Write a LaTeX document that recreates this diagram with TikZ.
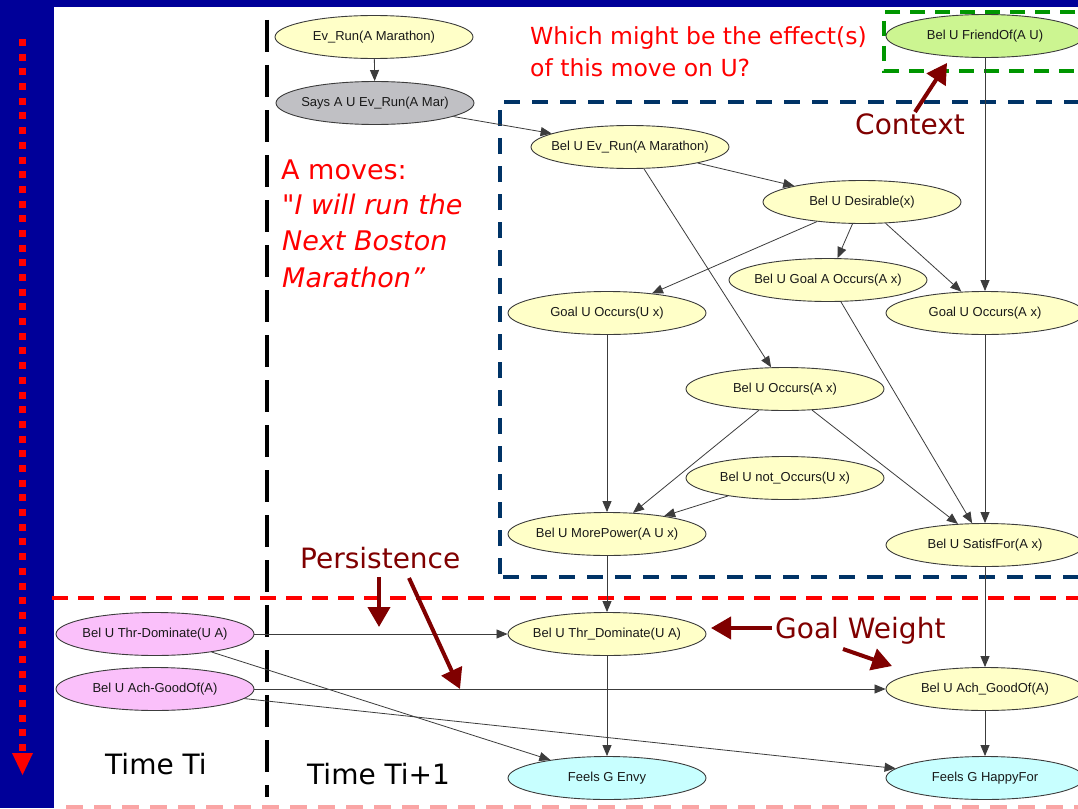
\documentclass[tikz,border=0pt]{standalone}
\usepackage{fontspec}
\setmainfont{Liberation Sans}
\newfontfamily\notefont{DejaVu Sans}
\newfontfamily\handfont{DejaVu Sans}
\usetikzlibrary{shapes.geometric,arrows.meta}

\definecolor{slideblue}{RGB}{0,0,153}
\definecolor{boxnavy}{RGB}{0,51,102}
\definecolor{ctxgreen}{RGB}{0,150,0}
\definecolor{notered}{RGB}{128,0,0}
\definecolor{fadedred}{RGB}{250,165,165}
\definecolor{fillyellow}{RGB}{255,255,200}
\definecolor{fillgray}{RGB}{192,192,196}
\definecolor{fillgreen}{RGB}{204,245,145}
\definecolor{fillpink}{RGB}{250,192,250}
\definecolor{fillcyan}{RGB}{200,255,255}
\definecolor{inkgray}{RGB}{60,60,60}

\tikzset{
  bn/.style={ellipse, draw=inkgray, line width=0.9pt, minimum width=198pt,
    minimum height=43pt, inner xsep=-40pt, inner ysep=0pt, text=black!90,
    font=\fontsize{13}{15}\selectfont},
  link/.style={draw=inkgray, line width=0.8pt, -{Triangle[length=11pt,width=9pt]}},
  hint/.style={draw=notered, line width=4pt, -{Triangle[length=20pt,width=22pt]}},
  handtext/.style={anchor=base west, text=notered, inner sep=0pt,
    font=\handfont\fontsize{28}{32}\selectfont},
  redtext/.style={anchor=base west, text=red, inner sep=0pt},
  timetext/.style={anchor=base west, text=black, inner sep=0pt,
    font=\notefont\fontsize{28}{32}\selectfont},
}

\begin{document}
\begin{tikzpicture}[x=1pt,y=-1pt]
\useasboundingbox (0,0) rectangle (1078,808);
\clip (0,0) rectangle (1078,808);

% slide frame
\fill[white] (0,0) rectangle (1078,808);
\fill[slideblue] (0,0) rectangle (54,808);
\fill[slideblue] (0,0) rectangle (1078,7);

% time axis on the left
\draw[red, line width=7pt, dash pattern=on 7pt off 7.69pt] (22.5,39) -- (22.5,751);
\fill[red] (12,753) -- (33,753) -- (22.5,775) -- cycle;

% separators and groupings
\draw[black, line width=4pt, dash pattern=on 32pt off 13pt] (267,20) -- (267,797);
\draw[red, line width=4pt, dash pattern=on 16pt off 10pt] (52,598) -- (1078,598);
\draw[boxnavy, line width=3.5pt, dash pattern=on 16pt off 12pt, dash phase=-3pt]
  (500,577) -- (500,102) -- (1100,102);
\draw[boxnavy, line width=3.5pt, dash pattern=on 16pt off 12pt, dash phase=-3pt]
  (500,577) -- (1100,577);
\draw[ctxgreen, line width=4pt, dash pattern=on 15pt off 10pt]
  (1100,12) -- (884,12) -- (884,71) -- (1100,71);
\draw[fadedred, line width=6pt, dash pattern=on 17pt off 11pt] (66,808) -- (1078,808);

% belief network
\node[bn, fill=fillyellow] (evrun)  at (374,37)  {Ev\_Run(A Marathon)};
\node[bn, fill=fillgray]   (says)   at (375,103) {Says A U Ev\_Run(A Mar)};
\node[bn, fill=fillyellow] (belrun) at (630,147) {Bel U Ev\_Run(A Marathon)};
\node[bn, fill=fillyellow] (desir)  at (862,202) {Bel U Desirable(x)};
\node[bn, fill=fillgreen]  (friend) at (985,36)  {Bel U FriendOf(A U)};
\node[bn, fill=fillyellow] (goalA)  at (828,280) {Bel U Goal A Occurs(A x)};
\node[bn, fill=fillyellow] (goalUU) at (607,313) {Goal U Occurs(U x)};
\node[bn, fill=fillyellow] (goalUA) at (985,313) {Goal U Occurs(A x)};
\node[bn, fill=fillyellow] (occ)    at (785,389) {Bel U Occurs(A x)};
\node[bn, fill=fillyellow] (notocc) at (785,478) {Bel U not\_Occurs(U x)};
\node[bn, fill=fillyellow] (power)  at (607,534) {Bel U MorePower(A U x)};
\node[bn, fill=fillyellow] (satis)  at (985,545) {Bel U SatisfFor(A x)};
\node[bn, fill=fillpink]   (throld) at (155,634) {Bel U Thr-Dominate(U A)};
\node[bn, fill=fillpink]   (achold) at (155,689) {Bel U Ach-GoodOf(A)};
\node[bn, fill=fillyellow] (thr)    at (607,634) {Bel U Thr\_Dominate(U A)};
\node[bn, fill=fillyellow] (ach)    at (985,689) {Bel U Ach\_GoodOf(A)};
\node[bn, fill=fillcyan]   (envy)   at (607,778) {Feels G Envy};
\node[bn, fill=fillcyan]   (happy)  at (985,778) {Feels G HappyFor};

\draw[link] (evrun) -- (says);
\draw[link] (says) -- (belrun);
\draw[link] (belrun) -- (desir);
\draw[link] (belrun) -- (occ);
\draw[link] (desir) -- (goalUU);
\draw[link] (desir) -- (goalA);
\draw[link] (desir) -- (goalUA);
\draw[link] (friend) -- (goalUA);
\draw[link] (goalUU) -- (power);
\draw[link] (goalA) -- (satis);
\draw[link] (goalUA) -- (satis);
\draw[link] (occ) -- (power);
\draw[link] (occ) -- (satis);
\draw[link] (notocc) -- (power);
\draw[link] (power) -- (thr);
\draw[link] (satis) -- (ach);
\draw[link] (throld) -- (thr);
\draw[link] (throld) -- (envy);
\draw[link] (achold) -- (ach);
\draw[link] (achold) -- (happy);
\draw[link] (thr) -- (envy);
\draw[link] (ach) -- (happy);

% captions
\node[redtext, font=\notefont\fontsize{23.5}{27}\selectfont] (q1) at (530,45) {Which might be the effect(s)};
\node[redtext, font=\notefont\fontsize{23.5}{27}\selectfont] (q2) at (530,77) {of this move on U?};
\node[redtext, font=\notefont\fontsize{27}{30}\selectfont] (mv) at (281,179) {A moves:};
\node[redtext, font=\notefont\itshape\fontsize{27}{30}\selectfont] (mv1) at (282,214) {"I will run the};
\node[redtext, font=\notefont\itshape\fontsize{27}{30}\selectfont] (mv2) at (282,250) {Next Boston};
\node[redtext, font=\notefont\itshape\fontsize{27}{30}\selectfont] (mv3) at (282,287) {Marathon”};

\node[handtext] (ctx) at (855,134) {Context};
\node[handtext] (pers) at (300,568) {Persistence};
\node[handtext] (gw) at (775,638) {Goal Weight};

\coordinate (ctxA) at (915,112);   \coordinate (ctxB) at (947,63);
\coordinate (persA) at (379,577);  \coordinate (persB) at (379,627);
\coordinate (persC) at (409,578);  \coordinate (persD) at (460,689);
\coordinate (gwA) at (772,628);    \coordinate (gwB) at (711,628);
\coordinate (gwC) at (843,649);    \coordinate (gwD) at (892,666);
\draw[hint] (ctxA) -- (ctxB);
\draw[hint] (persA) -- (persB);
\draw[hint] (persC) -- (persD);
\draw[hint] (gwA) -- (gwB);
\draw[hint] (gwC) -- (gwD);

\node[timetext] (ti) at (105,774) {Time Ti};
\node[timetext] (ti1) at (307,784) {Time Ti+1};
\end{tikzpicture}
\end{document}
